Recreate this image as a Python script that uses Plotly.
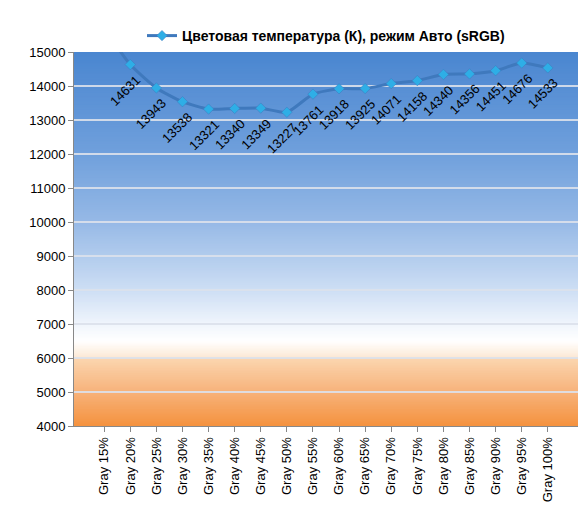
import plotly.graph_objects as go

categories = ["Gray 15%","Gray 20%","Gray 25%","Gray 30%","Gray 35%","Gray 40%","Gray 45%","Gray 50%","Gray 55%",
              "Gray 60%","Gray 65%","Gray 70%","Gray 75%","Gray 80%","Gray 85%","Gray 90%","Gray 95%","Gray 100%"]
values = [15700,14631,13943,13538,13321,13340,13349,13227,13761,13918,13925,14071,14158,14340,14356,14451,14676,14533]
labels = [None] + [str(v) for v in values[1:]]
yticks = list(range(4000, 15001, 1000))

# background gradient stops (value, rgb)
stops = [(4000,(245,146,62)),(5000,(247,178,122)),(6000,(251,214,176)),(6001,(252,232,212)),
         (6500,(255,255,255)),(7000,(240,245,252)),(8000,(205,222,244)),(10000,(150,185,230)),
         (12000,(112,160,220)),(15000,(74,134,208))]
def col(v):
    for (a,ca),(b,cb) in zip(stops, stops[1:]):
        if a <= v <= b:
            t = (v-a)/(b-a)
            return "rgb(%d,%d,%d)" % tuple(round(ca[i]+(cb[i]-ca[i])*t) for i in range(3))
    return "rgb(74,134,208)"

shapes = []
step = 50
for y0 in range(4000, 15000, step):
    shapes.append(dict(type="rect", xref="paper", yref="y", x0=0, x1=1, y0=y0,
                       y1=min(y0+step+40, 15000),
                       fillcolor=col(y0+step/2), line=dict(width=0), layer="below"))

fig = go.Figure()
fig.add_trace(go.Scatter(x=categories, y=values, mode="lines+markers",
    name="Цветовая температура (К), режим Авто (sRGB)",
    line=dict(color="#3f79bd", width=3, shape="spline", smoothing=0.6),
    marker=dict(symbol="diamond", size=8, color="#2eaee6", line=dict(color="#3f79bd", width=0.5))))

annotations = []
for c, v, t in zip(categories, values, labels):
    if t is None:
        continue
    annotations.append(dict(x=c, y=v, text=t, showarrow=False, textangle=-45,
                            xshift=-5, yshift=-26, font=dict(family="Liberation Sans", size=13, color="black")))

fig.update_layout(
    width=587, height=508, paper_bgcolor="white", plot_bgcolor="white",
    margin=dict(l=66, r=17, t=41, b=90),
    shapes=shapes, annotations=annotations,
    showlegend=True,
    legend=dict(orientation="h", x=0.5, xanchor="center", y=1.0, yanchor="bottom",
                font=dict(family="Liberation Sans", size=14, color="black", weight="bold"), bgcolor="rgba(0,0,0,0)"),
    font=dict(family="Liberation Sans", size=13, color="black"),
)
fig.update_xaxes(tickangle=-90, showline=True, linecolor="#888", ticks="outside", tickcolor="#888",
                 showgrid=False, tickfont=dict(size=13))
fig.update_yaxes(range=[4000, 15000], tickvals=yticks, tickformat="d", showline=True, linecolor="#888",
                 ticks="outside", tickcolor="#888", gridcolor="rgba(220,225,235,0.9)", gridwidth=1.5,
                 zeroline=False, tickfont=dict(size=13))
fig.write_html("out.html")
